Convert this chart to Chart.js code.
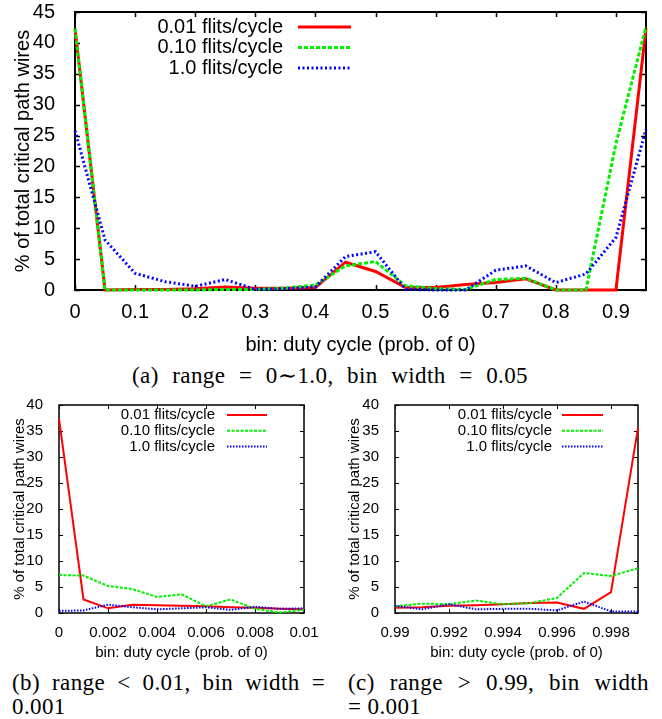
<!DOCTYPE html>
<html>
<head>
<meta charset="utf-8">
<script src="https://cdn.jsdelivr.net/npm/chart.js@4"></script>
<style>
  body { margin: 0; background: #fff; }
  #page { position: relative; width: 662px; height: 719px; overflow: hidden; }
  canvas { position: absolute; }
  .cap {
    position: absolute;
    font-family: "Liberation Serif", "DejaVu Serif", serif;
    font-size: 23px;
    letter-spacing: 0.4px;
    line-height: 24px;
    color: #000;
    white-space: nowrap;
  }
  .just { text-align: justify; text-align-last: justify; white-space: normal; }
</style>
</head>
<body>
<div id="page">
  <canvas id="chartA" width="662" height="362" style="left:0;top:0"></canvas>
  <canvas id="chartB" width="331" height="275" style="left:0;top:395px"></canvas>
  <canvas id="chartC" width="331" height="275" style="left:331px;top:395px"></canvas>
  <div class="cap just" style="left:132px;top:364px;width:396px">(a) range = 0∼1.0, bin width = 0.05</div>
  <div class="cap just" style="left:12px;top:671px;width:313px">(b) range &lt; 0.01, bin width =</div>
  <div class="cap" style="left:12px;top:695px">0.001</div>
  <div class="cap just" style="left:348px;top:671px;width:301px">(c) range &gt; 0.99, bin width</div>
  <div class="cap" style="left:348px;top:695px">= 0.001</div>
</div>
<script>
"use strict";

const seriesLabels = ["0.01 flits/cycle", "0.10 flits/cycle", "1.0 flits/cycle"];
const yTitle = "% of total critical path wires";
const xTitle = "bin: duty cycle (prob. of 0)";

// (a) range 0~1.0, bin width 0.05
const binsA = [0, 0.05, 0.1, 0.15, 0.2, 0.25, 0.3, 0.35, 0.4, 0.45, 0.5, 0.55, 0.6, 0.65, 0.7, 0.75, 0.8, 0.85, 0.9, 0.95];
const redA = [42.3, 0, 0.1, 0.1, 0.2, 0.5, 0.3, 0.3, 0.4, 4.5, 3.0, 0.4, 0.4, 0.9, 1.2, 1.8, 0, 0, 0, 42.3];
const greenA = [42.3, 0, 0, 0, 0, 0.1, 0.1, 0.3, 0.8, 3.9, 4.6, 0.7, 0.2, 0.1, 1.7, 1.9, 0, 0, 23.7, 42.6];
const blueA = [25.8, 8.1, 2.7, 1.35, 0.6, 1.7, 0.1, 0.2, 0.5, 5.4, 6.2, 0.1, 0, 0, 3.2, 3.9, 1.2, 2.6, 8.5, 26.0];
const xTicksA = [0, 0.1, 0.2, 0.3, 0.4, 0.5, 0.6, 0.7, 0.8, 0.9];
const xTickLabelsA = ["0", "0.1", "0.2", "0.3", "0.4", "0.5", "0.6", "0.7", "0.8", "0.9"];
const yTicksA = [0, 5, 10, 15, 20, 25, 30, 35, 40, 45];

// (b) range < 0.01, bin width 0.001
const binsB = [0, 0.001, 0.002, 0.003, 0.004, 0.005, 0.006, 0.007, 0.008, 0.009, 0.01];
const redB = [37.4, 2.6, 0.9, 1.6, 1.5, 1.4, 1.3, 1.1, 1.0, 0.8, 0.7];
const greenB = [7.3, 7.2, 5.2, 4.6, 3.1, 3.6, 1.3, 2.6, 0.8, 0.1, 0.6];
const blueB = [0.4, 0.5, 1.6, 1.1, 0.7, 0.9, 1.1, 0.6, 1.2, 0.8, 0.9];
const xTicksB = [0, 0.002, 0.004, 0.006, 0.008, 0.01];
const xTickLabelsB = ["0", "0.002", "0.004", "0.006", "0.008", "0.01"];

// (c) range > 0.99, bin width 0.001
const binsC = [0.99, 0.991, 0.992, 0.993, 0.994, 0.995, 0.996, 0.997, 0.998, 0.999];
const redC = [1.0, 1.1, 1.4, 1.5, 1.7, 1.9, 2.0, 0.8, 4.0, 35.6];
const greenC = [1.3, 1.8, 1.7, 2.4, 1.7, 1.9, 2.9, 7.7, 7.1, 8.6];
const blueC = [1.4, 0.7, 1.7, 0.7, 0.8, 0.8, 0.5, 2.2, 0.3, 0.3];
const xTicksC = [0.99, 0.992, 0.994, 0.996, 0.998];
const xTickLabelsC = ["0.99", "0.992", "0.994", "0.996", "0.998"];

const yTicksSmall = [0, 5, 10, 15, 20, 25, 30, 35, 40];

const colors = ["#ff0000", "#00f000", "#0000ff"];
const fontFamily = "'Liberation Sans', Arial, sans-serif";

// gnuplot style frame with inward tick marks on all four sides
const framePlugin = {
  id: "frame",
  beforeDatasetsDraw(chart, args, opts) {
    const { ctx, chartArea: a, scales: { x, y } } = chart;
    ctx.save();
    ctx.strokeStyle = "#000";
    ctx.lineWidth = opts.width;
    ctx.beginPath();
    for (const t of x.ticks) {
      const px = Math.round(x.getPixelForValue(t.value)) + 0.5;
      ctx.moveTo(px, a.bottom);
      ctx.lineTo(px, a.bottom - opts.tick);
      ctx.moveTo(px, a.top);
      ctx.lineTo(px, a.top + opts.tick);
    }
    for (const t of y.ticks) {
      const py = Math.round(y.getPixelForValue(t.value)) + 0.5;
      ctx.moveTo(a.left, py);
      ctx.lineTo(a.left + opts.tick, py);
      ctx.moveTo(a.right, py);
      ctx.lineTo(a.right - opts.tick, py);
    }
    ctx.stroke();
    ctx.lineWidth = opts.border;
    ctx.strokeRect(a.left, a.top, a.right - a.left, a.bottom - a.top);
    ctx.restore();
  },
  afterDatasetsDraw(chart, args, opts) {
    const { ctx, chartArea: a } = chart;
    ctx.save();
    ctx.font = opts.fontSize + "px " + fontFamily;
    ctx.textAlign = "right";
    ctx.textBaseline = "middle";
    chart.data.datasets.forEach((ds, i) => {
      const rowY = a.top + opts.rowStart + i * opts.rowGap;
      ctx.fillStyle = "#000";
      ctx.fillText(ds.label, a.left + opts.textRight, rowY);
      ctx.strokeStyle = ds.borderColor;
      ctx.lineWidth = ds.borderWidth;
      ctx.setLineDash(ds.borderDash || []);
      ctx.beginPath();
      ctx.moveTo(a.left + opts.lineStart, rowY);
      ctx.lineTo(a.left + opts.lineEnd, rowY);
      ctx.stroke();
    });
    ctx.restore();
  }
};

function makeChart(id, bins, values, cfg) {
  const datasets = values.map((vals, i) => ({
    label: seriesLabels[i],
    data: bins.map((b, j) => ({ x: b, y: vals[j] })),
    borderColor: colors[i],
    borderWidth: cfg.lineWidth,
    borderDash: cfg.dashes[i],
    borderCapStyle: "butt",
    pointRadius: 0,
    tension: 0,
    fill: false,
    clip: false,
    // later series are drawn on top, as gnuplot does
    order: values.length - i
  }));

  return new Chart(document.getElementById(id), {
    type: "line",
    data: { datasets },
    options: {
      responsive: false,
      animation: false,
      events: [],
      layout: { padding: cfg.padding },
      plugins: {
        legend: { display: false },
        tooltip: { enabled: false },
        frame: cfg.frame
      },
      scales: {
        x: {
          type: "linear",
          min: cfg.xMin,
          max: cfg.xMax,
          grid: { display: false },
          border: { display: false },
          ticks: {
            autoSkip: false,
            maxRotation: 0,
            padding: cfg.xTickPad,
            color: "#000",
            font: { family: fontFamily, size: cfg.fontSize },
            callback: (v, i) => cfg.xLabels[i]
          },
          afterBuildTicks: s => { s.ticks = cfg.xTicks.map(v => ({ value: v })); },
          afterFit: s => {
            s.height = cfg.xAxisHeight;
            s.paddingLeft = 0;
            s.paddingRight = 0;
          },
          title: {
            display: true,
            text: xTitle,
            color: "#000",
            font: { family: fontFamily, size: cfg.fontSize },
            padding: { top: 0, bottom: cfg.xTitlePad }
          }
        },
        y: {
          min: 0,
          max: cfg.yMax,
          grid: { display: false },
          border: { display: false },
          ticks: {
            padding: cfg.yTickPad,
            color: "#000",
            font: { family: fontFamily, size: cfg.fontSize }
          },
          afterBuildTicks: s => { s.ticks = cfg.yTicks.map(v => ({ value: v })); },
          afterFit: s => {
            s.width = cfg.yAxisWidth;
            s.paddingTop = 0;
            s.paddingBottom = 0;
          },
          title: {
            display: true,
            text: yTitle,
            color: "#000",
            font: { family: fontFamily, size: cfg.fontSize },
            padding: { top: cfg.yTitlePad, bottom: 0 }
          }
        }
      }
    },
    plugins: [framePlugin]
  });
}

makeChart("chartA", binsA, [redA, greenA, blueA], {
  xMin: 0, xMax: 0.95, yMax: 45,
  xTicks: xTicksA, xLabels: xTickLabelsA, yTicks: yTicksA,
  fontSize: 20, lineWidth: 3,
  dashes: [[], [4, 2], [2, 2.5]],
  padding: { top: 12, right: 16, left: 0, bottom: 0 },
  xAxisHeight: 72, yAxisWidth: 75,
  xTickPad: 2, yTickPad: 12, xTitlePad: 5, yTitlePad: 11,
  frame: { width: 1.5, border: 2, tick: 5, fontSize: 20, textRight: 208, lineStart: 223, lineEnd: 276, rowStart: 15, rowGap: 20.5 }
});

makeChart("chartB", binsB, [redB, greenB, blueB], {
  xMin: 0, xMax: 0.01, yMax: 40,
  xTicks: xTicksB, xLabels: xTickLabelsB, yTicks: yTicksSmall,
  fontSize: 15, lineWidth: 2,
  dashes: [[], [3, 1.5], [1.5, 1.5]],
  padding: { top: 10, right: 27, left: 0, bottom: 0 },
  xAxisHeight: 57, yAxisWidth: 59,
  xTickPad: 3, yTickPad: 8, xTitlePad: 8, yTitlePad: 11,
  frame: { width: 1, border: 1.5, tick: 4, fontSize: 15, textRight: 156, lineStart: 168, lineEnd: 208, rowStart: 10, rowGap: 15.8 }
});

makeChart("chartC", binsC, [redC, greenC, blueC], {
  xMin: 0.99, xMax: 0.999, yMax: 40,
  xTicks: xTicksC, xLabels: xTickLabelsC, yTicks: yTicksSmall,
  fontSize: 15, lineWidth: 2,
  dashes: [[], [3, 1.5], [1.5, 1.5]],
  padding: { top: 10, right: 24, left: 0, bottom: 0 },
  xAxisHeight: 57, yAxisWidth: 64,
  xTickPad: 3, yTickPad: 8, xTitlePad: 8, yTitlePad: 15,
  frame: { width: 1, border: 1.5, tick: 4, fontSize: 15, textRight: 157, lineStart: 167, lineEnd: 208, rowStart: 10, rowGap: 15.8 }
});
</script>
</body>
</html>
